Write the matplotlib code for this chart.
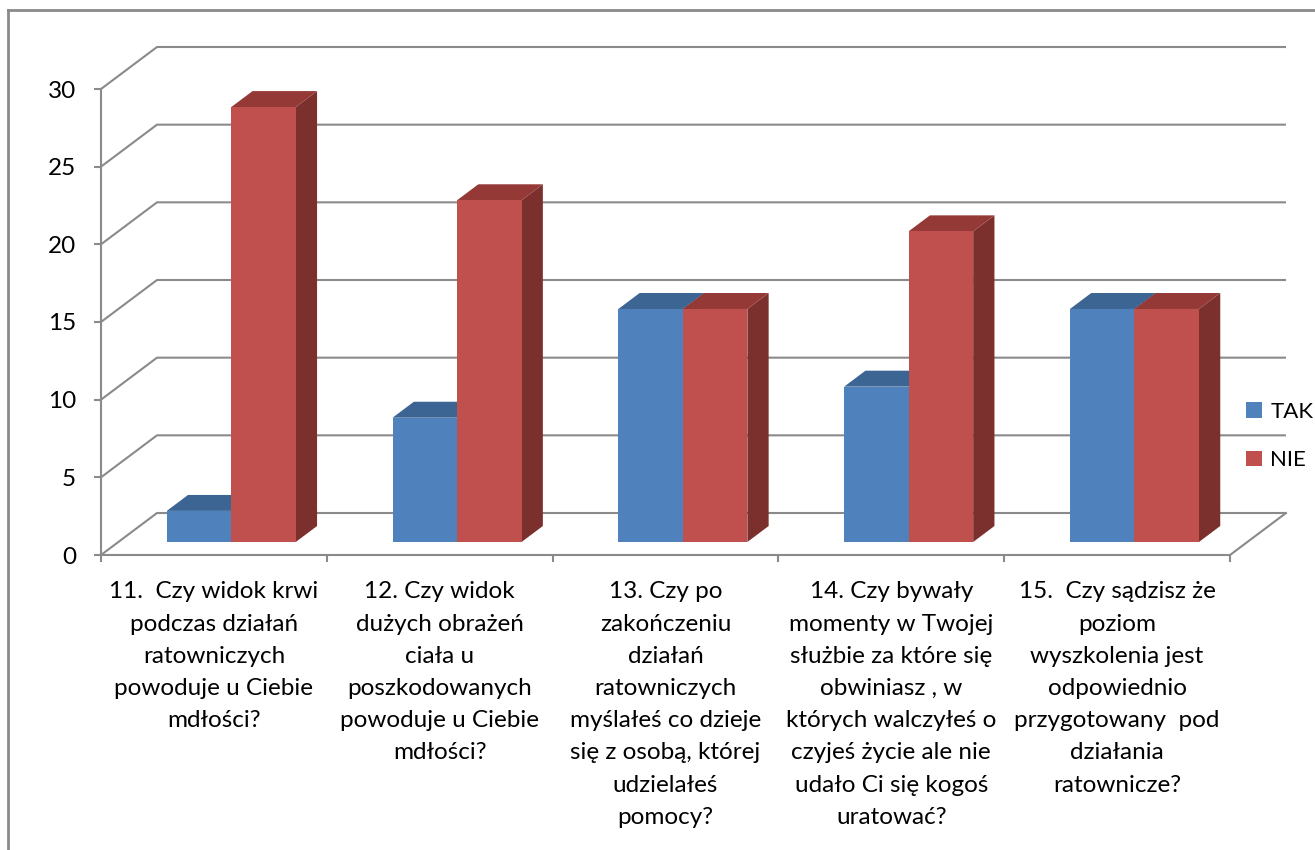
import matplotlib
matplotlib.use("Agg")
import matplotlib.pyplot as plt
from matplotlib.patches import Polygon, Patch
from matplotlib.lines import Line2D

plt.rcParams['font.family'] = ['Lato', 'DejaVu Sans']

# --- data -------------------------------------------------------------
categories = [
    "11.  Czy widok krwi\npodczas działań\nratowniczych\npowoduje u Ciebie\nmdłości?",
    "12. Czy widok\ndużych obrażeń\nciała u\nposzkodowanych\npowoduje u Ciebie\nmdłości?",
    "13. Czy po\nzakończeniu\ndziałań\nratowniczych\nmyślałeś co dzieje\nsię z osobą, której\nudzielałeś\npomocy?",
    "14. Czy bywały\nmomenty w Twojej\nsłużbie za które się\nobwiniasz , w\nktórych walczyłeś o\nczyjeś życie ale nie\nudało Ci się kogoś\nuratować?",
    "15.  Czy sądzisz że\npoziom\nwyszkolenia jest\nodpowiednio\nprzygotowany  pod\ndziałania\nratownicze?",
]
series_names = ["TAK", "NIE"]
tak_values = [2, 8, 15, 10, 15]
nie_values = [28, 22, 15, 20, 15]
y_ticks = [0, 5, 10, 15, 20, 25, 30]

# --- styling ----------------------------------------------------------
front_colors = ["#4F81BD", "#C0504D"]
top_colors = ["#3C6594", "#953937"]
side_colors = ["#355A87", "#7C302E"]
grid_color = "#8A8A8A"
FS = 17.5
FS_LEG = 16

W, H = 1315, 850
fig = plt.figure(figsize=(W / 100, H / 100), dpi=100)

# front plane of the 3-D box
left_px, right_px, bottom_px, top_px = 101, 1230, 555, 89
ax = fig.add_axes([left_px / W, 1 - bottom_px / H,
                   (right_px - left_px) / W, (bottom_px - top_px) / H])
n = len(categories)
ymax = 30
ax.set_xlim(0, n)
ax.set_ylim(0, ymax)

# oblique depth offset (full depth) in data units
DX = 56 / ((right_px - left_px) / n)
DY = 42 / ((bottom_px - top_px) / ymax)

def off(x, y, d):
    return (x + DX * d, y + DY * d)

# back-wall / side-wall gridlines
for v in y_ticks:
    xs = [0, DX, n + DX]
    ys = [v, v + DY, v + DY]
    ax.plot(xs, ys, color=grid_color, lw=1.5, clip_on=False, zorder=1,
            solid_capstyle='butt')
# floor right edge
ax.plot([n, n + DX], [0, DY], color=grid_color, lw=1.5, clip_on=False, zorder=1)

# 3-D bars
gap = 1.5
bw = 1 / (len(series_names) + gap)
d0, d1 = 0.31, 0.69
for i in range(n):
    for s, vals in enumerate([tak_values, nie_values]):
        v = vals[i]
        x0 = i + gap * bw / 2 + s * bw
        x1 = x0 + bw
        front = [off(x0, 0, d0), off(x1, 0, d0), off(x1, v, d0), off(x0, v, d0)]
        top = [off(x0, v, d0), off(x1, v, d0), off(x1, v, d1), off(x0, v, d1)]
        side = [off(x1, 0, d0), off(x1, 0, d1), off(x1, v, d1), off(x1, v, d0)]
        z = 3 + i * 2 + s
        ax.add_patch(Polygon(side, closed=True, fc=side_colors[s], ec='none',
                             clip_on=False, zorder=z))
        ax.add_patch(Polygon(top, closed=True, fc=top_colors[s], ec='none',
                             clip_on=False, zorder=z))
        ax.add_patch(Polygon(front, closed=True, fc=front_colors[s], ec='none',
                             clip_on=False, zorder=z))

# axes lines and ticks
for side in ['top', 'right']:
    ax.spines[side].set_visible(False)
for side in ['left', 'bottom']:
    ax.spines[side].set_color(grid_color)
    ax.spines[side].set_linewidth(1.5)
    ax.spines[side].set_zorder(2)
ax.set_facecolor('none')
ax.set_yticks(y_ticks)
ax.set_yticklabels([str(t) for t in y_ticks], fontsize=FS)
ax.set_xticks(range(n + 1))
ax.set_xticklabels([])
ax.set_xticks([i + 0.5 for i in range(n)], minor=True)
ax.set_xticklabels(categories, minor=True, fontsize=FS)
ax.tick_params(axis='y', direction='out', length=5, width=1.5,
               color=grid_color, pad=13)
ax.tick_params(axis='x', which='major', direction='out', length=5, width=1.5,
               color=grid_color)
ax.tick_params(axis='x', which='minor', length=0, pad=19)
for lbl in ax.get_xticklabels(minor=True):
    lbl.set_linespacing(1.66)
    lbl.set_multialignment('center')

# legend
handles = [Patch(fc=front_colors[k], ec='none') for k in range(2)]
leg = fig.legend(handles, series_names, loc='center left',
                 bbox_to_anchor=(1226 / W, 1 - 436 / H), frameon=False,
                 fontsize=FS_LEG, handlelength=0.7, handleheight=0.7,
                 handletextpad=0.4, labelspacing=1.3)

# chart-area frame
fig.add_artist(Line2D([8 / W, 8 / W], [0, 1 - 10 / H], color=grid_color,
                      lw=2, transform=fig.transFigure))
fig.add_artist(Line2D([8 / W, 1], [1 - 10 / H, 1 - 10 / H], color=grid_color,
                      lw=2, transform=fig.transFigure))

fig.savefig("out.png", dpi=100)
